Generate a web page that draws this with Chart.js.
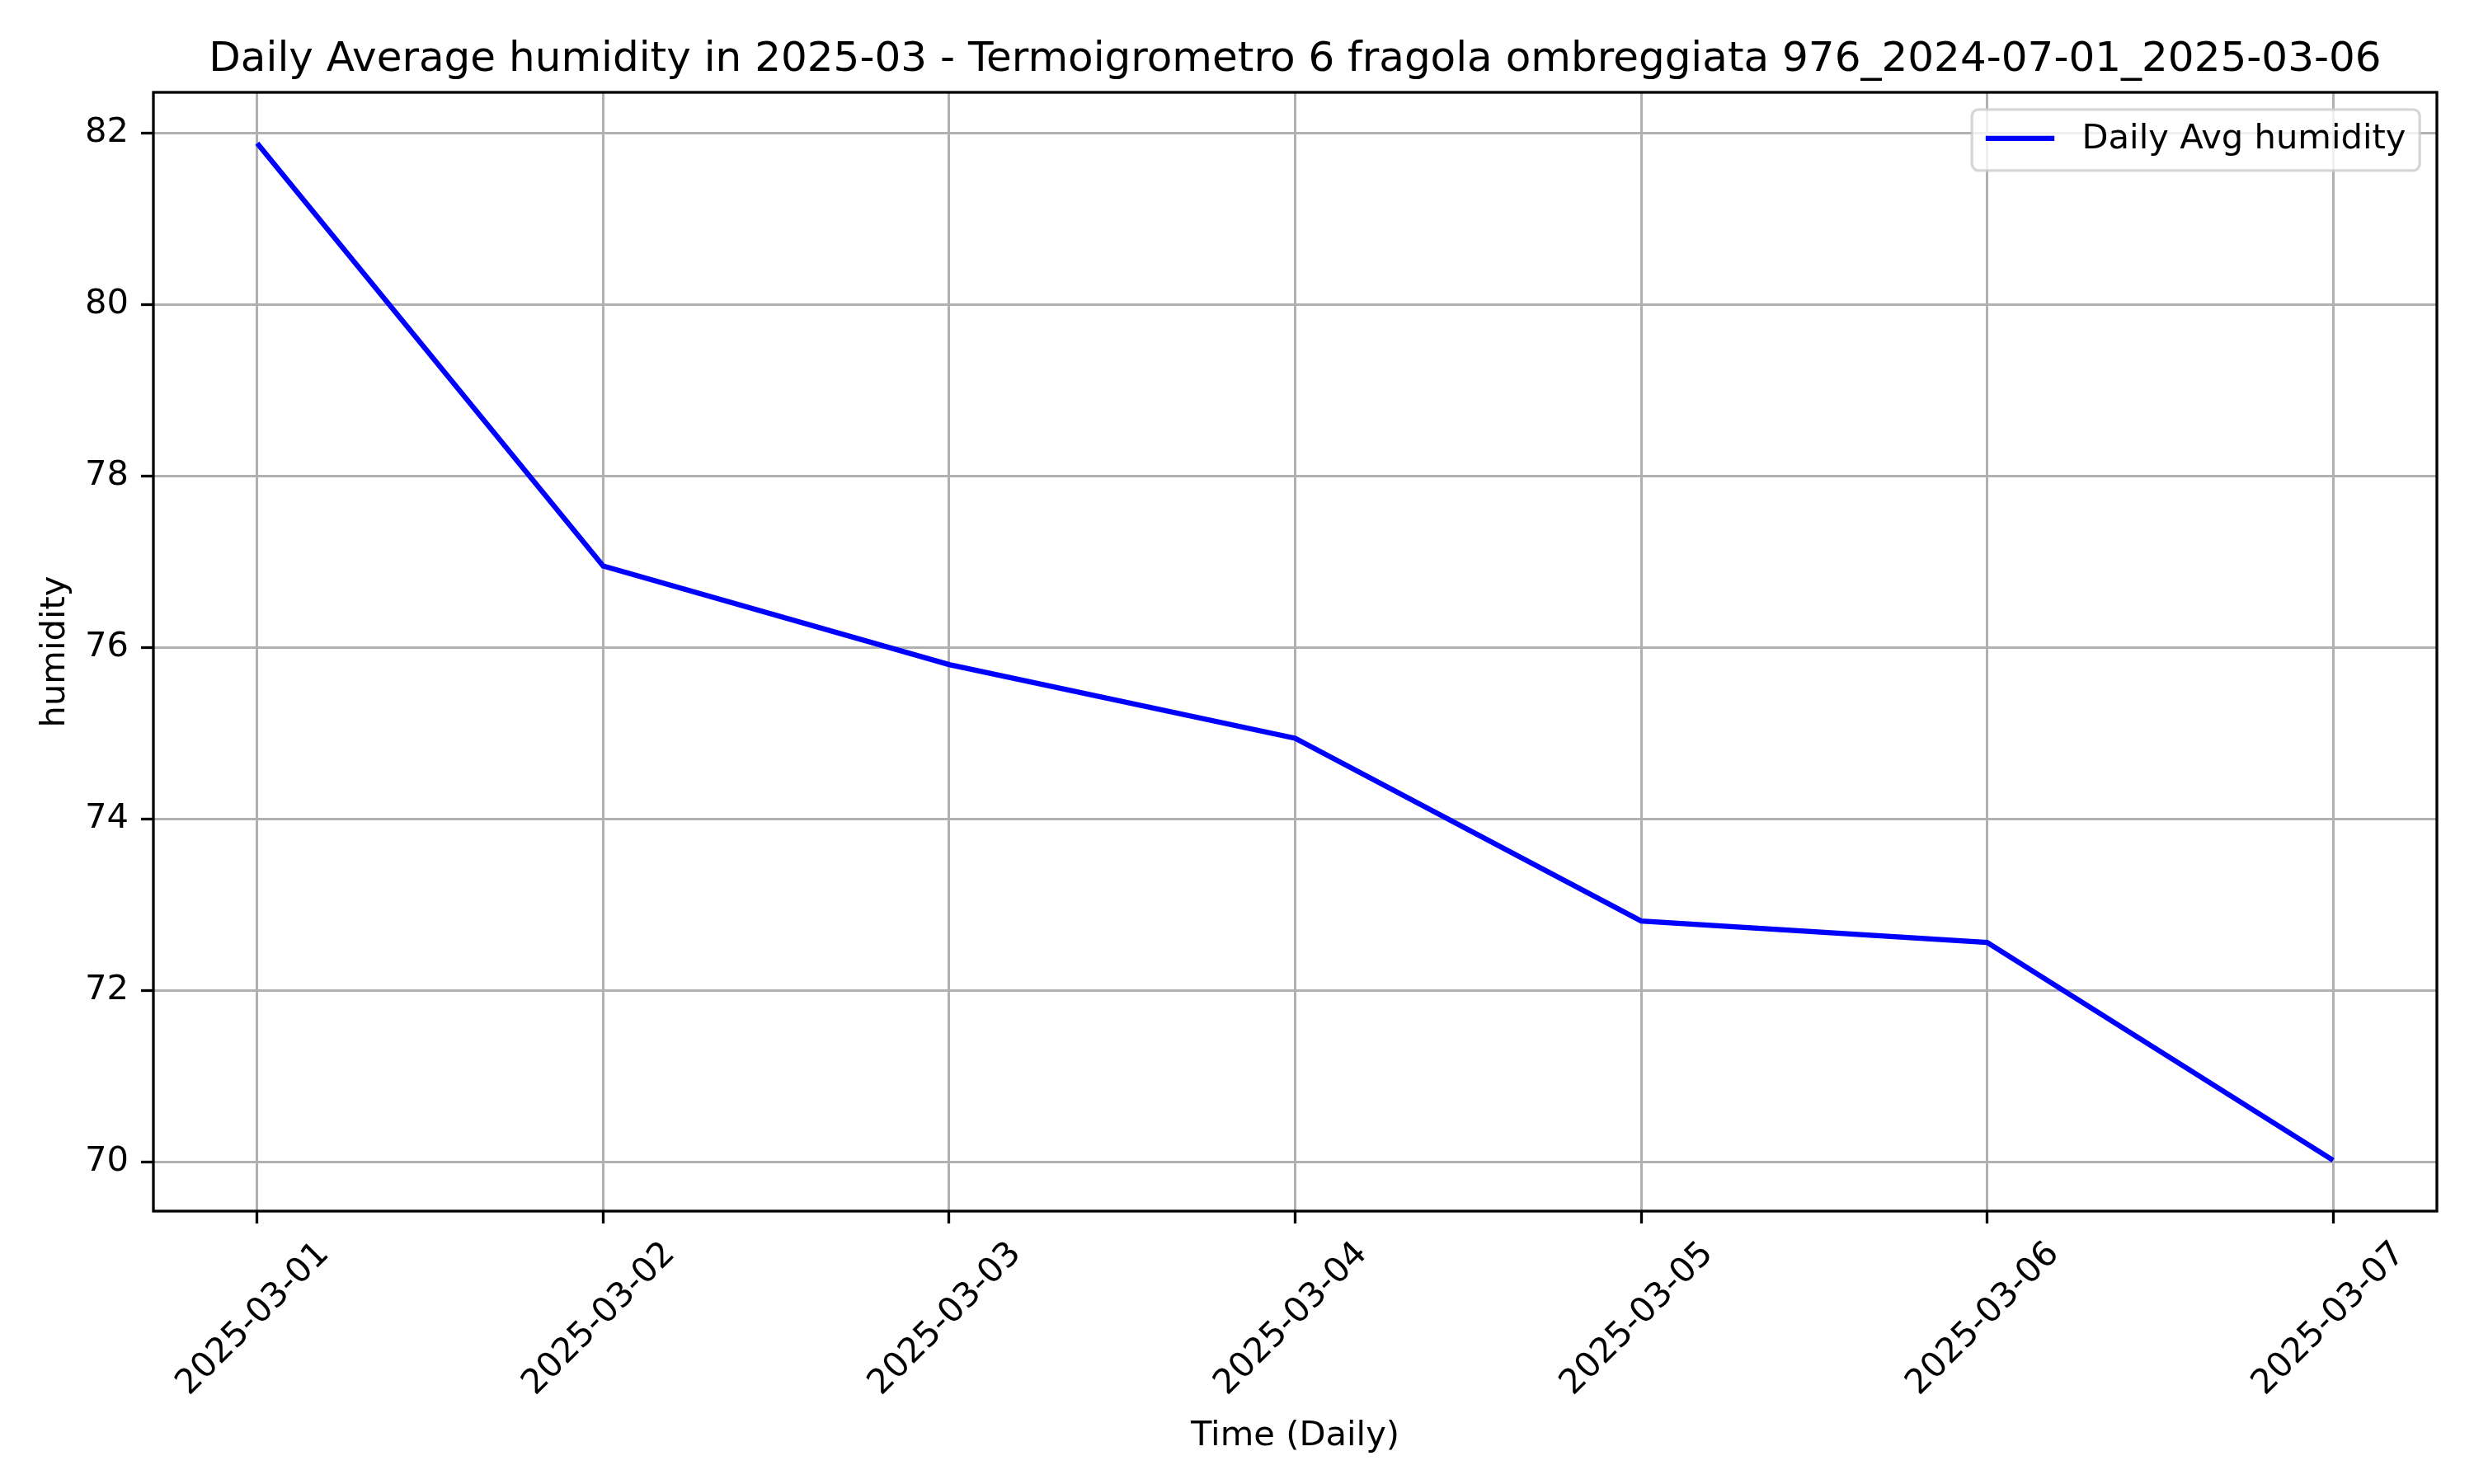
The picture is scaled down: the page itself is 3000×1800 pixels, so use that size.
<!DOCTYPE html>
<html><head><meta charset="utf-8">
<script src="https://cdn.jsdelivr.net/npm/chart.js@4.4.1/dist/chart.umd.min.js"></script>
<style>html,body{margin:0;padding:0;background:#fff}#wrap{width:3000px;height:1800px}</style>
</head><body><div id="wrap"><canvas id="c" width="3000" height="1800"></canvas></div>
<script>
const dates = ['2025-03-01','2025-03-02','2025-03-03','2025-03-04','2025-03-05','2025-03-06','2025-03-07'];
const humidity = [81.88, 76.95, 75.80, 74.94, 72.81, 72.56, 70.02];
const yTicks = [70, 72, 74, 76, 78, 80, 82];
const seriesLabel = 'Daily Avg humidity';
const chartTitle = 'Daily Average humidity in 2025-03 - Termoigrometro 6 fragola ombreggiata 976_2024-07-01_2025-03-06';
const xTitle = 'Time (Daily)';
const yTitle = 'humidity';

const FONT = "'DejaVu Sans', sans-serif";
const FS = 41.67;
Chart.defaults.color = '#000';
Chart.defaults.font.family = FONT;

const yLo = Math.min(...humidity), yHi = Math.max(...humidity);
const yPad = (yHi - yLo) * 0.05;
const xPad = (dates.length - 1) * 0.05;

const framePlugin = {
  id: 'frame',
  beforeDraw(chart) {
    const c = chart.ctx; c.save(); c.fillStyle = '#fff'; c.fillRect(0, 0, chart.width, chart.height); c.restore();
  },
  afterLayout(chart) {
    const t = chart.titleBlock, a = chart.chartArea;
    if (t) { t.left = a.left; t.right = a.right; t.width = a.right - a.left; }
  },
  afterDatasetsDraw(chart) {
    const c = chart.ctx, a = chart.chartArea;
    c.save();
    c.strokeStyle = '#000'; c.lineWidth = 3.3;
    c.strokeRect(a.left, a.top, a.right - a.left, a.bottom - a.top);
    // legend inside axes, upper right
    const ds = chart.data.datasets[0];
    c.font = FS + 'px ' + FONT;
    const tw = c.measureText(ds.label).width;
    const pad = 0.5 * FS, bpad = 0.4 * FS, hl = 2 * FS, htp = 0.8 * FS;
    const right = a.right - pad, top = a.top + pad;
    const textX = right - bpad - tw;
    const hEnd = textX - htp, hStart = hEnd - hl;
    const left = hStart - bpad;
    const h = 74, r = 8;
    c.beginPath();
    c.roundRect(left, top, right - left, h, r);
    c.fillStyle = 'rgba(255,255,255,0.8)'; c.fill();
    c.strokeStyle = 'rgba(204,204,204,0.8)'; c.lineWidth = 3.3; c.stroke();
    const cy = top + h / 2 - 2;
    c.beginPath(); c.moveTo(hStart, cy); c.lineTo(hEnd, cy);
    c.strokeStyle = ds.borderColor; c.lineWidth = ds.borderWidth; c.stroke();
    c.fillStyle = '#000'; c.textBaseline = 'middle'; c.textAlign = 'left';
    c.fillText(ds.label, textX, cy + 1);
    c.restore();
  }
};

new Chart(document.getElementById('c'), {
  type: 'line',
  data: {
    datasets: [{
      label: seriesLabel,
      data: humidity.map((v, i) => ({x: i, y: v})),
      borderColor: '#0000ff',
      backgroundColor: '#0000ff',
      borderWidth: 6.25,
      pointRadius: 0,
      tension: 0,
      fill: false
    }]
  },
  options: {
    responsive: false,
    devicePixelRatio: 1,
    animation: false,
    layout: { padding: { left: 0, right: 45, top: 0, bottom: 0 } },
    plugins: {
      legend: { display: false },
      tooltip: { enabled: false },
      title: {
        display: true, text: chartTitle,
        font: { size: 50, weight: 'normal', family: FONT, lineHeight: 1.2 },
        padding: { top: 43, bottom: 9 }
      }
    },
    scales: {
      x: {
        type: 'linear',
        min: -xPad, max: dates.length - 1 + xPad,
        afterBuildTicks: s => { s.ticks = dates.map((_, i) => ({value: i})); },
        afterFit: s => { s.height = 331; },
        border: { display: false },
        grid: { color: '#b0b0b0', lineWidth: 3, tickLength: 15, tickColor: '#000', tickWidth: 3.3 },
        ticks: {
          autoSkip: false, minRotation: 45, maxRotation: 45, padding: 13, labelOffset: 81,
          font: { size: FS, family: FONT },
          callback: v => dates[v]
        },
        title: { display: true, text: xTitle, font: { size: FS, family: FONT, lineHeight: 1.2 }, padding: { top: 0, bottom: 33 } }
      },
      y: {
        min: yLo - yPad, max: yHi + yPad,
        afterBuildTicks: s => { s.ticks = yTicks.map(v => ({value: v})); },
        afterFit: s => { s.width = 186; },
        border: { display: false },
        grid: { color: '#b0b0b0', lineWidth: 3, tickLength: 15, tickColor: '#000', tickWidth: 3.3 },
        ticks: { padding: 15, font: { size: FS, family: FONT }, callback: v => String(v) },
        title: { display: true, text: yTitle, font: { size: FS, family: FONT, lineHeight: 1.2 }, padding: { top: 42, bottom: 0 } }
      }
    }
  },
  plugins: [framePlugin]
});
</script></body></html>
